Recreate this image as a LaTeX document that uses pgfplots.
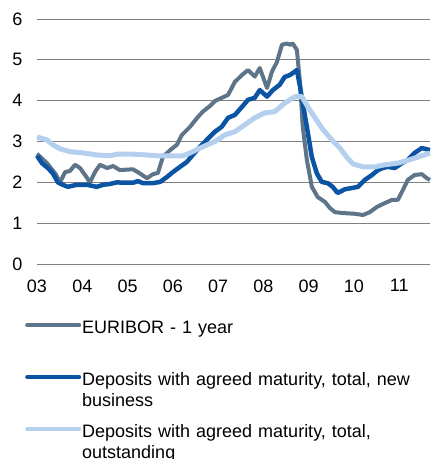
\documentclass[border=0pt]{standalone}
\usepackage{pgfplots}
\pgfplotsset{compat=1.18}
\usepackage{fontspec}
\setmainfont{Liberation Sans}
\definecolor{cEur}{RGB}{94,116,137}
\definecolor{cNew}{RGB}{11,84,164}
\definecolor{cOut}{RGB}{180,208,238}
\definecolor{cGrid}{RGB}{128,128,128}
\begin{document}
\begin{tikzpicture}
\begin{axis}[
  name=ax,
  scale only axis,
  width=393pt, height=245pt,
  xmin=2003, xmax=2011.68,
  ymin=0, ymax=6,
  ytick={0,1,...,6},
  xtick={2003,2004,...,2011},
  xticklabels={03,04,05,06,07,08,09,10,11},
  axis line style={draw=none},
  major tick length=0pt,
  ymajorgrids,
  grid style={cGrid, line width=0.9pt},
  tick label style={font=\fontsize{18}{21}\selectfont},
  /pgf/number format/assume math mode=true,
  yticklabel style={xshift=-11pt},
  xticklabel style={yshift=-12pt},
  clip=false,
  legend cell align=left,
  legend image code/.code={\path[draw=none,fill=none] (0pt,-21pt) rectangle (54pt,21pt); \draw[#1, line width=4pt, line cap=round] (1pt,21pt) -- (53pt,21pt);},
  legend style={draw=none, fill=none, inner sep=0pt,
    at={(0,0)}, anchor=north west, xshift=-12pt, yshift=-56pt,
    column sep=1pt,
    font=\fontsize{18}{21}\selectfont,
    nodes={text width=345pt, align=left, text height=13pt, text depth=39pt, inner sep=0pt}},
]
\addplot[cEur, line width=4pt, line join=round] coordinates {
(2003.00,2.70) (2003.22,2.47) (2003.40,2.22) (2003.51,2.00) (2003.62,2.25)
(2003.73,2.28) (2003.84,2.43) (2003.95,2.35) (2004.06,2.18) (2004.17,2.00)
(2004.28,2.25) (2004.39,2.43) (2004.55,2.35) (2004.68,2.40) (2004.83,2.30)
(2005.12,2.32) (2005.27,2.22) (2005.43,2.10) (2005.56,2.20) (2005.67,2.23)
(2005.78,2.62) (2005.94,2.79) (2006.09,2.92) (2006.20,3.16) (2006.38,3.36)
(2006.53,3.57) (2006.66,3.73) (2006.82,3.87) (2006.93,3.99) (2007.08,4.07)
(2007.22,4.14) (2007.37,4.46) (2007.53,4.63) (2007.66,4.75) (2007.81,4.59)
(2007.92,4.80) (2008.08,4.31) (2008.19,4.71) (2008.30,4.95) (2008.41,5.37)
(2008.52,5.40) (2008.59,5.37) (2008.65,5.40) (2008.74,5.24) (2008.81,4.43)
(2008.87,3.36) (2008.96,2.55) (2009.07,1.89) (2009.20,1.64) (2009.36,1.52)
(2009.47,1.37) (2009.58,1.27) (2009.73,1.25) (2010.02,1.23) (2010.20,1.20)
(2010.35,1.27) (2010.51,1.40) (2010.68,1.49) (2010.84,1.57) (2010.97,1.57)
(2011.08,1.81) (2011.19,2.06) (2011.34,2.18) (2011.50,2.20) (2011.61,2.10)
(2011.68,2.06)
};
\addlegendentry{EURIBOR - 1 year}
\addplot[cNew, line width=4.5pt, line join=round] coordinates {
(2003.00,2.65) (2003.11,2.47) (2003.24,2.35) (2003.35,2.22) (2003.46,2.00)
(2003.57,1.94) (2003.68,1.89) (2003.88,1.94) (2004.10,1.94) (2004.32,1.89)
(2004.46,1.94) (2004.61,1.96) (2004.77,2.00) (2004.90,1.99) (2005.12,1.99)
(2005.23,2.03) (2005.34,1.98) (2005.56,1.98) (2005.72,2.01) (2005.87,2.13)
(2006.00,2.25) (2006.16,2.38) (2006.31,2.50) (2006.44,2.67) (2006.60,2.87)
(2006.75,3.04) (2006.93,3.24) (2007.08,3.36) (2007.22,3.58) (2007.37,3.65)
(2007.53,3.85) (2007.66,4.02) (2007.81,4.07) (2007.92,4.26) (2008.08,4.10)
(2008.21,4.26) (2008.36,4.39) (2008.47,4.58) (2008.59,4.63) (2008.74,4.75)
(2008.81,4.34) (2008.87,3.94) (2008.96,3.36) (2009.07,2.62) (2009.18,2.22)
(2009.29,2.01) (2009.42,1.98) (2009.53,1.89) (2009.64,1.74) (2009.80,1.83)
(2009.95,1.86) (2010.09,1.89) (2010.24,2.06) (2010.40,2.18) (2010.53,2.30)
(2010.64,2.35) (2010.75,2.38) (2010.90,2.35) (2011.06,2.47) (2011.19,2.55)
(2011.34,2.72) (2011.50,2.84) (2011.68,2.79)
};
\addlegendentry{Deposits with agreed maturity, total, new\\business}
\addplot[cOut, line width=5pt, line join=round] coordinates {
(2003.00,3.11) (2003.22,3.04) (2003.35,2.92) (2003.51,2.82) (2003.73,2.75)
(2004.02,2.72) (2004.32,2.67) (2004.61,2.65) (2004.77,2.69) (2005.12,2.69)
(2005.43,2.67) (2005.65,2.65) (2005.94,2.65) (2006.22,2.65) (2006.38,2.72)
(2006.60,2.84) (2006.93,3.00) (2007.15,3.16) (2007.37,3.24) (2007.59,3.41)
(2007.81,3.58) (2008.03,3.70) (2008.25,3.73) (2008.47,3.94) (2008.70,4.10)
(2008.85,4.10) (2008.98,3.85) (2009.14,3.58) (2009.29,3.33) (2009.51,3.04)
(2009.69,2.84) (2009.84,2.62) (2009.98,2.45) (2010.20,2.38) (2010.46,2.38)
(2010.68,2.43) (2010.97,2.47) (2011.28,2.57) (2011.50,2.65) (2011.68,2.72)
};
\addlegendentry{Deposits with agreed maturity, total,\\outstanding}
\end{axis}
\pgfresetboundingbox
\path[use as bounding box] ([xshift=-37pt,yshift=19pt]ax.north west) rectangle ([yshift=-195pt]ax.south east);
\end{tikzpicture}
\end{document}
